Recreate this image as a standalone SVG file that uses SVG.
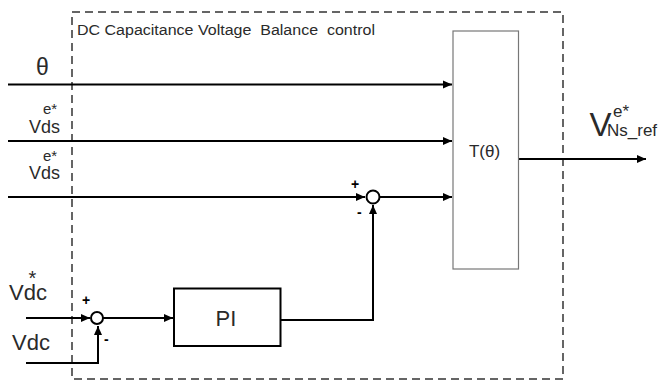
<svg xmlns="http://www.w3.org/2000/svg" width="662" height="383" viewBox="0 0 662 383">
<style>
text{font-family:"Liberation Sans",Arial,sans-serif;fill:#2a2a2a}
.w{stroke:#000;stroke-width:2;fill:none}
.s{stroke:#000;stroke-width:2;fill:#fff}
.sg{font-size:14px;font-weight:bold;fill:#000}
</style>
<defs>
<marker id="ah" markerWidth="10" markerHeight="10" refX="9" refY="5" orient="auto" markerUnits="userSpaceOnUse">
<path d="M0,1 L9,5 L0,9 Z" fill="#000"/>
</marker>
</defs>
<g id="boundary">
<rect x="72" y="12" width="491" height="367" fill="none" stroke="#333" stroke-width="1.5" stroke-dasharray="8,5"/>
<text x="77" y="35" font-size="14" xml:space="preserve" textLength="298" lengthAdjust="spacingAndGlyphs">DC Capacitance Voltage  Balance  control</text>
</g>
<g id="connectors">
<line class="w" x1="8" y1="84.5" x2="452" y2="84.5" marker-end="url(#ah)"/>
<line class="w" x1="8" y1="141" x2="452" y2="141" marker-end="url(#ah)"/>
<line class="w" x1="8" y1="197" x2="365" y2="197" marker-end="url(#ah)"/>
<line class="w" x1="380" y1="197" x2="452" y2="197" marker-end="url(#ah)"/>
<line class="w" x1="519" y1="159" x2="646" y2="159" marker-end="url(#ah)"/>
<polyline class="w" points="281,320 373,320 373,205" marker-end="url(#ah)"/>
<line class="w" x1="26" y1="318" x2="90" y2="318" marker-end="url(#ah)"/>
<polyline class="w" points="26,363 98,363 98,326" marker-end="url(#ah)"/>
<line class="w" x1="103" y1="318" x2="173" y2="318" marker-end="url(#ah)"/>
</g>
<g id="transform">
<rect x="453" y="31" width="65.5" height="238" fill="#fff" stroke="#777" stroke-width="1.2"/>
<text x="484.5" y="157" font-size="17" text-anchor="middle">T(θ)</text>
</g>
<g id="sum1">
<circle class="s" cx="373" cy="197" r="6.5"/>
<text class="sg" x="351" y="189">+</text>
<text class="sg" x="357" y="217">-</text>
</g>
<g id="sum2">
<circle class="s" cx="97" cy="318" r="6"/>
<text class="sg" x="82" y="305">+</text>
<text class="sg" x="104" y="344">-</text>
</g>
<g id="pi">
<rect x="174" y="288.5" width="106.5" height="57.5" fill="#fff" stroke="#000" stroke-width="2"/>
<text x="226" y="326" font-size="22" text-anchor="middle">PI</text>
</g>
<g id="labels">
<text x="36" y="75" font-size="23">θ</text>
<text><tspan x="29" y="132.5" font-size="18">Vds</tspan><tspan x="43" y="114" font-size="15">e*</tspan></text>
<text><tspan x="29" y="178.5" font-size="18">Vds</tspan><tspan x="43" y="160.5" font-size="15">e*</tspan></text>
<text><tspan x="9" y="299.5" font-size="22">Vdc</tspan><tspan x="28.5" y="285" font-size="20">*</tspan></text>
<text x="12" y="350" font-size="22">Vdc</text>
<text><tspan x="589.5" y="135.5" font-size="33">V</tspan><tspan x="613" y="117" font-size="17">e*</tspan><tspan x="607" y="135.5" font-size="17">Ns_ref</tspan></text>
</g>
</svg>
